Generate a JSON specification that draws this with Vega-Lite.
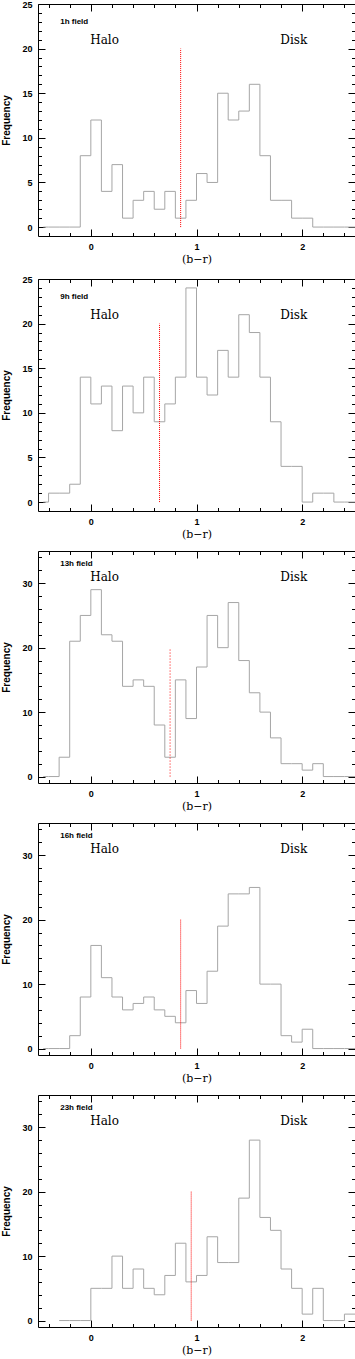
{
"$schema": "https://vega.github.io/schema/vega-lite/v6.json",
"padding": {"left": 1, "top": 0, "right": 0, "bottom": 0},
"background": "white",
"spacing": 10,
"config": {
  "view": {"stroke": null},
  "axis": {"domainColor": "black", "domainWidth": 1, "tickColor": "black", "tickWidth": 1, "grid": false,
    "labelFont": "Liberation Sans", "labelFontWeight": "bold", "labelFontSize": 9, "labelColor": "black",
    "labelFlush": false, "labelOverlap": false, "labelPadding": 13,
    "titleColor": "black"},
  "axisLeft": {"titleFont": "Liberation Sans", "titleFontWeight": "bold", "titleFontSize": 10, "titlePadding": 10},
  "axisBottom": {"titleFont": "DejaVu Serif", "titleFontWeight": "normal", "titleFontSize": 11, "titlePadding": -1}
},
"datasets": {
  "hist": [
    {"field":"1h","br":-0.45,"count":0},{"field":"1h","br":-0.4,"count":0},{"field":"1h","br":-0.3,"count":0},{"field":"1h","br":-0.2,"count":0},{"field":"1h","br":-0.1,"count":8},{"field":"1h","br":0,"count":12},{"field":"1h","br":0.1,"count":4},{"field":"1h","br":0.2,"count":7},{"field":"1h","br":0.3,"count":1},{"field":"1h","br":0.4,"count":3},{"field":"1h","br":0.5,"count":4},{"field":"1h","br":0.6,"count":2},{"field":"1h","br":0.7,"count":4},{"field":"1h","br":0.8,"count":1},{"field":"1h","br":0.9,"count":3},{"field":"1h","br":1.0,"count":6},{"field":"1h","br":1.1,"count":5},{"field":"1h","br":1.2,"count":15},{"field":"1h","br":1.3,"count":12},{"field":"1h","br":1.4,"count":13},{"field":"1h","br":1.5,"count":16},{"field":"1h","br":1.6,"count":8},{"field":"1h","br":1.7,"count":3},{"field":"1h","br":1.8,"count":3},{"field":"1h","br":1.9,"count":1},{"field":"1h","br":2.0,"count":1},{"field":"1h","br":2.1,"count":0},{"field":"1h","br":2.2,"count":0},{"field":"1h","br":2.3,"count":0},{"field":"1h","br":2.4,"count":0},{"field":"1h","br":2.5,"count":0},
    {"field":"9h","br":-0.45,"count":0},{"field":"9h","br":-0.4,"count":1},{"field":"9h","br":-0.3,"count":1},{"field":"9h","br":-0.2,"count":2},{"field":"9h","br":-0.1,"count":14},{"field":"9h","br":0,"count":11},{"field":"9h","br":0.1,"count":13},{"field":"9h","br":0.2,"count":8},{"field":"9h","br":0.3,"count":13},{"field":"9h","br":0.4,"count":10},{"field":"9h","br":0.5,"count":14},{"field":"9h","br":0.6,"count":9},{"field":"9h","br":0.7,"count":11},{"field":"9h","br":0.8,"count":14},{"field":"9h","br":0.9,"count":24},{"field":"9h","br":1.0,"count":14},{"field":"9h","br":1.1,"count":12},{"field":"9h","br":1.2,"count":17},{"field":"9h","br":1.3,"count":14},{"field":"9h","br":1.4,"count":21},{"field":"9h","br":1.5,"count":19},{"field":"9h","br":1.6,"count":14},{"field":"9h","br":1.7,"count":9},{"field":"9h","br":1.8,"count":4},{"field":"9h","br":1.9,"count":4},{"field":"9h","br":2.0,"count":0},{"field":"9h","br":2.1,"count":1},{"field":"9h","br":2.2,"count":1},{"field":"9h","br":2.3,"count":0},{"field":"9h","br":2.4,"count":0},{"field":"9h","br":2.5,"count":0},
    {"field":"13h","br":-0.45,"count":0},{"field":"13h","br":-0.4,"count":0},{"field":"13h","br":-0.3,"count":3},{"field":"13h","br":-0.2,"count":21},{"field":"13h","br":-0.1,"count":25},{"field":"13h","br":0,"count":29},{"field":"13h","br":0.1,"count":22},{"field":"13h","br":0.2,"count":21},{"field":"13h","br":0.3,"count":14},{"field":"13h","br":0.4,"count":15},{"field":"13h","br":0.5,"count":14},{"field":"13h","br":0.6,"count":8},{"field":"13h","br":0.7,"count":3},{"field":"13h","br":0.8,"count":15},{"field":"13h","br":0.9,"count":9},{"field":"13h","br":1.0,"count":17},{"field":"13h","br":1.1,"count":25},{"field":"13h","br":1.2,"count":20},{"field":"13h","br":1.3,"count":27},{"field":"13h","br":1.4,"count":18},{"field":"13h","br":1.5,"count":13},{"field":"13h","br":1.6,"count":10},{"field":"13h","br":1.7,"count":6},{"field":"13h","br":1.8,"count":2},{"field":"13h","br":1.9,"count":2},{"field":"13h","br":2.0,"count":1},{"field":"13h","br":2.1,"count":2},{"field":"13h","br":2.2,"count":0},{"field":"13h","br":2.3,"count":0},{"field":"13h","br":2.4,"count":0},{"field":"13h","br":2.5,"count":0},
    {"field":"16h","br":-0.45,"count":0},{"field":"16h","br":-0.4,"count":0},{"field":"16h","br":-0.3,"count":0},{"field":"16h","br":-0.2,"count":2},{"field":"16h","br":-0.1,"count":8},{"field":"16h","br":0,"count":16},{"field":"16h","br":0.1,"count":11},{"field":"16h","br":0.2,"count":8},{"field":"16h","br":0.3,"count":6},{"field":"16h","br":0.4,"count":7},{"field":"16h","br":0.5,"count":8},{"field":"16h","br":0.6,"count":6},{"field":"16h","br":0.7,"count":5},{"field":"16h","br":0.8,"count":4},{"field":"16h","br":0.9,"count":9},{"field":"16h","br":1.0,"count":7},{"field":"16h","br":1.1,"count":12},{"field":"16h","br":1.2,"count":19},{"field":"16h","br":1.3,"count":24},{"field":"16h","br":1.4,"count":24},{"field":"16h","br":1.5,"count":25},{"field":"16h","br":1.6,"count":10},{"field":"16h","br":1.7,"count":10},{"field":"16h","br":1.8,"count":2},{"field":"16h","br":1.9,"count":1},{"field":"16h","br":2.0,"count":3},{"field":"16h","br":2.1,"count":0},{"field":"16h","br":2.2,"count":0},{"field":"16h","br":2.3,"count":0},{"field":"16h","br":2.4,"count":0},{"field":"16h","br":2.5,"count":0},
    {"field":"23h","br":-0.3,"count":0},{"field":"23h","br":-0.2,"count":0},{"field":"23h","br":-0.1,"count":0},{"field":"23h","br":0,"count":5},{"field":"23h","br":0.1,"count":5},{"field":"23h","br":0.2,"count":10},{"field":"23h","br":0.3,"count":5},{"field":"23h","br":0.4,"count":8},{"field":"23h","br":0.5,"count":5},{"field":"23h","br":0.6,"count":4},{"field":"23h","br":0.7,"count":7},{"field":"23h","br":0.8,"count":12},{"field":"23h","br":0.9,"count":6},{"field":"23h","br":1.0,"count":7},{"field":"23h","br":1.1,"count":13},{"field":"23h","br":1.2,"count":9},{"field":"23h","br":1.3,"count":9},{"field":"23h","br":1.4,"count":19},{"field":"23h","br":1.5,"count":28},{"field":"23h","br":1.6,"count":16},{"field":"23h","br":1.7,"count":14},{"field":"23h","br":1.8,"count":8},{"field":"23h","br":1.9,"count":5},{"field":"23h","br":2.0,"count":1},{"field":"23h","br":2.1,"count":5},{"field":"23h","br":2.2,"count":0},{"field":"23h","br":2.3,"count":0},{"field":"23h","br":2.4,"count":1},{"field":"23h","br":2.5,"count":1}
  ],
  "cuts": [
    {"field":"1h","cut":0.85},{"field":"9h","cut":0.65},{"field":"13h","cut":0.75},{"field":"16h","cut":0.85},{"field":"23h","cut":0.95}
  ]
},
"vconcat": [
  {
    "width": 317, "height": 232,
    "resolve": {"axis": {"x": "independent", "y": "independent"}},
    "layer": [
      {"data": {"name": "hist"}, "transform": [{"filter": "datum.field === '1h'"}],
       "mark": {"type": "line", "interpolate": "step-after", "color": "#a6a6a6", "strokeWidth": 1},
       "encoding": {
         "x": {"field": "br", "type": "quantitative", "scale": {"domain": [-0.5, 2.5], "nice": false, "zero": false},
           "axis": {"orient": "bottom", "title": "(b−r)", "values": [-0.4,-0.2,0,0.2,0.4,0.6,0.8,1,1.2,1.4,1.6,1.8,2,2.2,2.4],
             "labelExpr": "abs(datum.value - round(datum.value)) < 0.001 ? format(datum.value, 'd') : ''",
             "tickSize": {"condition": {"test": "abs(datum.value - round(datum.value)) < 0.001", "value": -7}, "value": -3.5}}},
         "y": {"field": "count", "type": "quantitative", "scale": {"domain": [-1, 25], "nice": false, "zero": false},
           "axis": {"orient": "left", "title": "Frequency", "values": [0,1,2,3,4,5,6,7,8,9,10,11,12,13,14,15,16,17,18,19,20,21,22,23,24,25],
             "labelExpr": "datum.value % 5 === 0 ? datum.label : ''",
             "tickSize": {"condition": {"test": "datum.value % 5 === 0", "value": -7}, "value": -3.5}}}
       }},
      {"data": {"name": "cuts"}, "transform": [{"filter": "datum.field === '1h'"}],
       "mark": {"type": "rule", "color": "#ff0000", "strokeDash": [1, 1], "strokeWidth": 1},
       "encoding": {
         "x": {"field": "cut", "type": "quantitative", "scale": {"domain": [-0.5, 2.5], "nice": false, "zero": false},
           "axis": {"orient": "top", "title": null, "labels": false, "values": [-0.4,-0.2,0,0.2,0.4,0.6,0.8,1,1.2,1.4,1.6,1.8,2,2.2,2.4],
             "tickSize": {"condition": {"test": "abs(datum.value - round(datum.value)) < 0.001", "value": -7}, "value": -3.5}}},
         "y": {"datum": 0, "type": "quantitative",
           "axis": {"orient": "right", "title": null, "labels": false, "values": [0,1,2,3,4,5,6,7,8,9,10,11,12,13,14,15,16,17,18,19,20,21,22,23,24,25],
             "tickSize": {"condition": {"test": "datum.value % 5 === 0", "value": -7}, "value": -3.5}}},
         "y2": {"datum": 20}
       }},
      {"data": {"values": [{"t": "Halo"}]}, "mark": {"type": "text", "font": "DejaVu Serif", "fontSize": 12, "color": "black"},
       "encoding": {"x": {"datum": 0.13, "type": "quantitative", "axis": null}, "y": {"datum": 21, "type": "quantitative", "axis": null}, "text": {"field": "t"}}},
      {"data": {"values": [{"t": "Disk"}]}, "mark": {"type": "text", "font": "DejaVu Serif", "fontSize": 12, "color": "black"},
       "encoding": {"x": {"datum": 1.92, "type": "quantitative", "axis": null}, "y": {"datum": 21, "type": "quantitative", "axis": null}, "text": {"field": "t"}}},
      {"data": {"values": [{"t": "1h field"}]}, "mark": {"type": "text", "font": "Liberation Sans", "fontWeight": "bold", "fontSize": 8, "align": "left", "color": "black"},
       "encoding": {"x": {"datum": -0.29, "type": "quantitative", "axis": null}, "y": {"datum": 23, "type": "quantitative", "axis": null}, "text": {"field": "t"}}}
    ]
  },
  {
    "width": 317, "height": 232,
    "resolve": {"axis": {"x": "independent", "y": "independent"}},
    "layer": [
      {"data": {"name": "hist"}, "transform": [{"filter": "datum.field === '9h'"}],
       "mark": {"type": "line", "interpolate": "step-after", "color": "#a6a6a6", "strokeWidth": 1},
       "encoding": {
         "x": {"field": "br", "type": "quantitative", "scale": {"domain": [-0.5, 2.5], "nice": false, "zero": false},
           "axis": {"orient": "bottom", "title": "(b−r)", "values": [-0.4,-0.2,0,0.2,0.4,0.6,0.8,1,1.2,1.4,1.6,1.8,2,2.2,2.4],
             "labelExpr": "abs(datum.value - round(datum.value)) < 0.001 ? format(datum.value, 'd') : ''",
             "tickSize": {"condition": {"test": "abs(datum.value - round(datum.value)) < 0.001", "value": -7}, "value": -3.5}}},
         "y": {"field": "count", "type": "quantitative", "scale": {"domain": [-1, 25], "nice": false, "zero": false},
           "axis": {"orient": "left", "title": "Frequency", "values": [0,1,2,3,4,5,6,7,8,9,10,11,12,13,14,15,16,17,18,19,20,21,22,23,24,25],
             "labelExpr": "datum.value % 5 === 0 ? datum.label : ''",
             "tickSize": {"condition": {"test": "datum.value % 5 === 0", "value": -7}, "value": -3.5}}}
       }},
      {"data": {"name": "cuts"}, "transform": [{"filter": "datum.field === '9h'"}],
       "mark": {"type": "rule", "color": "#ff0000", "strokeDash": [1, 1], "strokeWidth": 1},
       "encoding": {
         "x": {"field": "cut", "type": "quantitative", "scale": {"domain": [-0.5, 2.5], "nice": false, "zero": false},
           "axis": {"orient": "top", "title": null, "labels": false, "values": [-0.4,-0.2,0,0.2,0.4,0.6,0.8,1,1.2,1.4,1.6,1.8,2,2.2,2.4],
             "tickSize": {"condition": {"test": "abs(datum.value - round(datum.value)) < 0.001", "value": -7}, "value": -3.5}}},
         "y": {"datum": 0, "type": "quantitative",
           "axis": {"orient": "right", "title": null, "labels": false, "values": [0,1,2,3,4,5,6,7,8,9,10,11,12,13,14,15,16,17,18,19,20,21,22,23,24,25],
             "tickSize": {"condition": {"test": "datum.value % 5 === 0", "value": -7}, "value": -3.5}}},
         "y2": {"datum": 20}
       }},
      {"data": {"values": [{"t": "Halo"}]}, "mark": {"type": "text", "font": "DejaVu Serif", "fontSize": 12, "color": "black"},
       "encoding": {"x": {"datum": 0.13, "type": "quantitative", "axis": null}, "y": {"datum": 21, "type": "quantitative", "axis": null}, "text": {"field": "t"}}},
      {"data": {"values": [{"t": "Disk"}]}, "mark": {"type": "text", "font": "DejaVu Serif", "fontSize": 12, "color": "black"},
       "encoding": {"x": {"datum": 1.92, "type": "quantitative", "axis": null}, "y": {"datum": 21, "type": "quantitative", "axis": null}, "text": {"field": "t"}}},
      {"data": {"values": [{"t": "9h field"}]}, "mark": {"type": "text", "font": "Liberation Sans", "fontWeight": "bold", "fontSize": 8, "align": "left", "color": "black"},
       "encoding": {"x": {"datum": -0.29, "type": "quantitative", "axis": null}, "y": {"datum": 23, "type": "quantitative", "axis": null}, "text": {"field": "t"}}}
    ]
  },
  {
    "width": 317, "height": 232,
    "resolve": {"axis": {"x": "independent", "y": "independent"}},
    "layer": [
      {"data": {"name": "hist"}, "transform": [{"filter": "datum.field === '13h'"}],
       "mark": {"type": "line", "interpolate": "step-after", "color": "#a6a6a6", "strokeWidth": 1},
       "encoding": {
         "x": {"field": "br", "type": "quantitative", "scale": {"domain": [-0.5, 2.5], "nice": false, "zero": false},
           "axis": {"orient": "bottom", "title": "(b−r)", "values": [-0.4,-0.2,0,0.2,0.4,0.6,0.8,1,1.2,1.4,1.6,1.8,2,2.2,2.4],
             "labelExpr": "abs(datum.value - round(datum.value)) < 0.001 ? format(datum.value, 'd') : ''",
             "tickSize": {"condition": {"test": "abs(datum.value - round(datum.value)) < 0.001", "value": -7}, "value": -3.5}}},
         "y": {"field": "count", "type": "quantitative", "scale": {"domain": [-1, 35], "nice": false, "zero": false},
           "axis": {"orient": "left", "title": "Frequency", "values": [0,2,4,6,8,10,12,14,16,18,20,22,24,26,28,30,32,34],
             "labelExpr": "datum.value % 10 === 0 ? datum.label : ''",
             "tickSize": {"condition": {"test": "datum.value % 10 === 0", "value": -7}, "value": -3.5}}}
       }},
      {"data": {"name": "cuts"}, "transform": [{"filter": "datum.field === '13h'"}],
       "mark": {"type": "rule", "color": "#ff0000", "strokeDash": [1, 2], "strokeWidth": 1},
       "encoding": {
         "x": {"field": "cut", "type": "quantitative", "scale": {"domain": [-0.5, 2.5], "nice": false, "zero": false},
           "axis": {"orient": "top", "title": null, "labels": false, "values": [-0.4,-0.2,0,0.2,0.4,0.6,0.8,1,1.2,1.4,1.6,1.8,2,2.2,2.4],
             "tickSize": {"condition": {"test": "abs(datum.value - round(datum.value)) < 0.001", "value": -7}, "value": -3.5}}},
         "y": {"datum": 0, "type": "quantitative",
           "axis": {"orient": "right", "title": null, "labels": false, "values": [0,2,4,6,8,10,12,14,16,18,20,22,24,26,28,30,32,34],
             "tickSize": {"condition": {"test": "datum.value % 10 === 0", "value": -7}, "value": -3.5}}},
         "y2": {"datum": 20}
       }},
      {"data": {"values": [{"t": "Halo"}]}, "mark": {"type": "text", "font": "DejaVu Serif", "fontSize": 12, "color": "black"},
       "encoding": {"x": {"datum": 0.13, "type": "quantitative", "axis": null}, "y": {"datum": 31, "type": "quantitative", "axis": null}, "text": {"field": "t"}}},
      {"data": {"values": [{"t": "Disk"}]}, "mark": {"type": "text", "font": "DejaVu Serif", "fontSize": 12, "color": "black"},
       "encoding": {"x": {"datum": 1.92, "type": "quantitative", "axis": null}, "y": {"datum": 31, "type": "quantitative", "axis": null}, "text": {"field": "t"}}},
      {"data": {"values": [{"t": "13h field"}]}, "mark": {"type": "text", "font": "Liberation Sans", "fontWeight": "bold", "fontSize": 8, "align": "left", "color": "black"},
       "encoding": {"x": {"datum": -0.29, "type": "quantitative", "axis": null}, "y": {"datum": 33, "type": "quantitative", "axis": null}, "text": {"field": "t"}}}
    ]
  },
  {
    "width": 317, "height": 232,
    "resolve": {"axis": {"x": "independent", "y": "independent"}},
    "layer": [
      {"data": {"name": "hist"}, "transform": [{"filter": "datum.field === '16h'"}],
       "mark": {"type": "line", "interpolate": "step-after", "color": "#a6a6a6", "strokeWidth": 1},
       "encoding": {
         "x": {"field": "br", "type": "quantitative", "scale": {"domain": [-0.5, 2.5], "nice": false, "zero": false},
           "axis": {"orient": "bottom", "title": "(b−r)", "values": [-0.4,-0.2,0,0.2,0.4,0.6,0.8,1,1.2,1.4,1.6,1.8,2,2.2,2.4],
             "labelExpr": "abs(datum.value - round(datum.value)) < 0.001 ? format(datum.value, 'd') : ''",
             "tickSize": {"condition": {"test": "abs(datum.value - round(datum.value)) < 0.001", "value": -7}, "value": -3.5}}},
         "y": {"field": "count", "type": "quantitative", "scale": {"domain": [-1, 35], "nice": false, "zero": false},
           "axis": {"orient": "left", "title": "Frequency", "values": [0,2,4,6,8,10,12,14,16,18,20,22,24,26,28,30,32,34],
             "labelExpr": "datum.value % 10 === 0 ? datum.label : ''",
             "tickSize": {"condition": {"test": "datum.value % 10 === 0", "value": -7}, "value": -3.5}}}
       }},
      {"data": {"name": "cuts"}, "transform": [{"filter": "datum.field === '16h'"}],
       "mark": {"type": "rule", "color": "#ff0000", "strokeDash": [1, 1], "strokeWidth": 1},
       "encoding": {
         "x": {"field": "cut", "type": "quantitative", "scale": {"domain": [-0.5, 2.5], "nice": false, "zero": false},
           "axis": {"orient": "top", "title": null, "labels": false, "values": [-0.4,-0.2,0,0.2,0.4,0.6,0.8,1,1.2,1.4,1.6,1.8,2,2.2,2.4],
             "tickSize": {"condition": {"test": "abs(datum.value - round(datum.value)) < 0.001", "value": -7}, "value": -3.5}}},
         "y": {"datum": 0, "type": "quantitative",
           "axis": {"orient": "right", "title": null, "labels": false, "values": [0,2,4,6,8,10,12,14,16,18,20,22,24,26,28,30,32,34],
             "tickSize": {"condition": {"test": "datum.value % 10 === 0", "value": -7}, "value": -3.5}}},
         "y2": {"datum": 20}
       }},
      {"data": {"values": [{"t": "Halo"}]}, "mark": {"type": "text", "font": "DejaVu Serif", "fontSize": 12, "color": "black"},
       "encoding": {"x": {"datum": 0.13, "type": "quantitative", "axis": null}, "y": {"datum": 31, "type": "quantitative", "axis": null}, "text": {"field": "t"}}},
      {"data": {"values": [{"t": "Disk"}]}, "mark": {"type": "text", "font": "DejaVu Serif", "fontSize": 12, "color": "black"},
       "encoding": {"x": {"datum": 1.92, "type": "quantitative", "axis": null}, "y": {"datum": 31, "type": "quantitative", "axis": null}, "text": {"field": "t"}}},
      {"data": {"values": [{"t": "16h field"}]}, "mark": {"type": "text", "font": "Liberation Sans", "fontWeight": "bold", "fontSize": 8, "align": "left", "color": "black"},
       "encoding": {"x": {"datum": -0.29, "type": "quantitative", "axis": null}, "y": {"datum": 33, "type": "quantitative", "axis": null}, "text": {"field": "t"}}}
    ]
  },
  {
    "width": 317, "height": 232,
    "resolve": {"axis": {"x": "independent", "y": "independent"}},
    "layer": [
      {"data": {"name": "hist"}, "transform": [{"filter": "datum.field === '23h'"}],
       "mark": {"type": "line", "interpolate": "step-after", "color": "#a6a6a6", "strokeWidth": 1},
       "encoding": {
         "x": {"field": "br", "type": "quantitative", "scale": {"domain": [-0.5, 2.5], "nice": false, "zero": false},
           "axis": {"orient": "bottom", "title": "(b−r)", "values": [-0.4,-0.2,0,0.2,0.4,0.6,0.8,1,1.2,1.4,1.6,1.8,2,2.2,2.4],
             "labelExpr": "abs(datum.value - round(datum.value)) < 0.001 ? format(datum.value, 'd') : ''",
             "tickSize": {"condition": {"test": "abs(datum.value - round(datum.value)) < 0.001", "value": -7}, "value": -3.5}}},
         "y": {"field": "count", "type": "quantitative", "scale": {"domain": [-1, 35], "nice": false, "zero": false},
           "axis": {"orient": "left", "title": "Frequency", "values": [0,2,4,6,8,10,12,14,16,18,20,22,24,26,28,30,32,34],
             "labelExpr": "datum.value % 10 === 0 ? datum.label : ''",
             "tickSize": {"condition": {"test": "datum.value % 10 === 0", "value": -7}, "value": -3.5}}}
       }},
      {"data": {"name": "cuts"}, "transform": [{"filter": "datum.field === '23h'"}],
       "mark": {"type": "rule", "color": "#ff0000", "strokeDash": [1, 1], "strokeWidth": 1},
       "encoding": {
         "x": {"field": "cut", "type": "quantitative", "scale": {"domain": [-0.5, 2.5], "nice": false, "zero": false},
           "axis": {"orient": "top", "title": null, "labels": false, "values": [-0.4,-0.2,0,0.2,0.4,0.6,0.8,1,1.2,1.4,1.6,1.8,2,2.2,2.4],
             "tickSize": {"condition": {"test": "abs(datum.value - round(datum.value)) < 0.001", "value": -7}, "value": -3.5}}},
         "y": {"datum": 0, "type": "quantitative",
           "axis": {"orient": "right", "title": null, "labels": false, "values": [0,2,4,6,8,10,12,14,16,18,20,22,24,26,28,30,32,34],
             "tickSize": {"condition": {"test": "datum.value % 10 === 0", "value": -7}, "value": -3.5}}},
         "y2": {"datum": 20}
       }},
      {"data": {"values": [{"t": "Halo"}]}, "mark": {"type": "text", "font": "DejaVu Serif", "fontSize": 12, "color": "black"},
       "encoding": {"x": {"datum": 0.13, "type": "quantitative", "axis": null}, "y": {"datum": 31, "type": "quantitative", "axis": null}, "text": {"field": "t"}}},
      {"data": {"values": [{"t": "Disk"}]}, "mark": {"type": "text", "font": "DejaVu Serif", "fontSize": 12, "color": "black"},
       "encoding": {"x": {"datum": 1.92, "type": "quantitative", "axis": null}, "y": {"datum": 31, "type": "quantitative", "axis": null}, "text": {"field": "t"}}},
      {"data": {"values": [{"t": "23h field"}]}, "mark": {"type": "text", "font": "Liberation Sans", "fontWeight": "bold", "fontSize": 8, "align": "left", "color": "black"},
       "encoding": {"x": {"datum": -0.29, "type": "quantitative", "axis": null}, "y": {"datum": 33, "type": "quantitative", "axis": null}, "text": {"field": "t"}}}
    ]
  }
]
}
